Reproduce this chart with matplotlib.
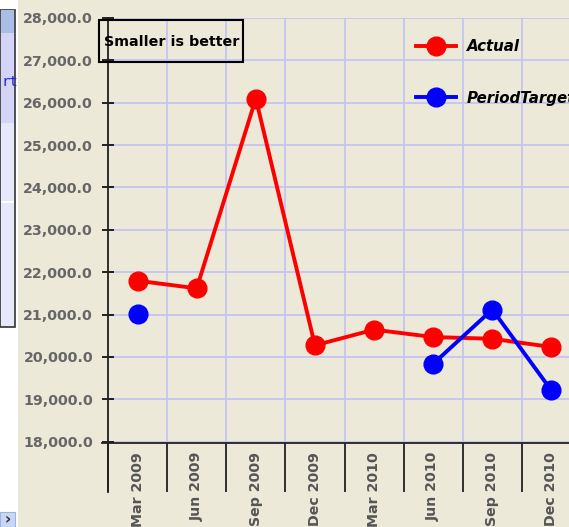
import numpy as np
import matplotlib
matplotlib.use("Agg")
from matplotlib import pyplot as plt
from matplotlib.patches import Rectangle

# data
quarters = ["Mar 2009", "Jun 2009", "Sep 2009", "Dec 2009",
            "Mar 2010", "Jun 2010", "Sep 2010", "Dec 2010"]
actual = [21800, 21620, 26100, 20275, 20645, 20470, 20430, 20235]
target = [21020, np.nan, np.nan, np.nan, np.nan, 19840, 21120, 19210]
yticks = list(range(18000, 28001, 1000))

W, H = 569, 527
BG = "#ECE9D8"

fig = plt.figure(figsize=(W / 100, H / 100), dpi=100, facecolor=BG)

def px_rect(x0, y0, x1, y1, **kw):
    # rectangle given in screen pixels (origin top-left)
    r = Rectangle((x0 / W, 1 - y1 / H), (x1 - x0) / W, (y1 - y0) / H,
                  transform=fig.transFigure, **kw)
    fig.add_artist(r)
    return r

# leftover window strip on the left of the screenshot
px_rect(0, 0, 18, H, facecolor="white", edgecolor="none")
px_rect(0, 10, 14.5, 327, facecolor="#E8E8FC", edgecolor="#333333", lw=1.2)
px_rect(0.5, 10.5, 14, 33, facecolor="#A9BEE6", edgecolor="none")
px_rect(0.5, 33, 14, 123, facecolor="#D4D4F8", edgecolor="none")
px_rect(0.5, 201, 14, 202.5, facecolor="white", edgecolor="none")
px_rect(0, 512, 15, H, facecolor="#C8D7F5", edgecolor="#9DB3E0", lw=0.8)
fig.text(1 / W, 1 - 82 / H, "rt", ha="left", va="center",
         color="#2222DD", fontsize=10, family="DejaVu Sans Mono")
fig.text(7.5 / W, 1 - 520 / H, "›", ha="center", va="center",
         color="#333333", fontsize=11, fontweight="bold")

# axes: left 108, right 581 (past the image edge), top 18, bottom 443
ax = fig.add_axes([108 / W, (H - 443) / H, 473 / W, 425 / H])
ax.set_facecolor(BG)

x = np.arange(len(quarters))
ax.plot(x, actual, color="#FF0000", lw=2.8, marker="o", ms=13.5,
        label="Actual", zorder=3)
ax.plot(x, target, color="#0000FF", lw=2.8, marker="o", ms=13.5,
        label="PeriodTarget", zorder=3)

ax.set_xlim(-0.5, len(quarters) - 0.5)
ax.set_ylim(17970, 28000)

ax.set_yticks(yticks)
ax.set_yticklabels([f"{v:,.1f}" for v in yticks])
ax.tick_params(axis="y", direction="inout", length=8.5, width=1.2,
               pad=6.5, labelsize=10.2, labelcolor="#666666")
for t in ax.get_yticklabels():
    t.set_fontweight("bold")

ax.set_xticks(x)
ax.set_xticklabels(quarters, rotation=90, va="top", ha="center")
ax.set_xticks(np.arange(-0.5, len(quarters)), minor=True)
ax.tick_params(axis="x", which="major", length=0, pad=6.5,
               labelsize=10.2, labelcolor="#555555")
ax.tick_params(axis="x", which="minor", direction="out", length=35,
               width=1.3, color="#222222")
for t in ax.get_xticklabels():
    t.set_fontweight("bold")

ax.grid(True, axis="y", which="major", color="#C4C4F2", lw=1.3)
ax.grid(True, axis="x", which="minor", color="#C4C4F2", lw=1.3)
ax.set_axisbelow(True)

for s in ["top", "right"]:
    ax.spines[s].set_visible(False)
for s in ["left", "bottom"]:
    ax.spines[s].set_color("#222222")
    ax.spines[s].set_linewidth(1.3)
# y axis runs on below the plot, x axis a little to the left
ax.plot([0, 0], [0, -49 / 425], transform=ax.transAxes, color="#222222",
        lw=1.3, clip_on=False)
ax.plot([-6 / 473, 0], [0, 0], transform=ax.transAxes, color="#222222",
        lw=1.3, clip_on=False)

# note box
ax.add_patch(Rectangle((-9 / 473, 1 - 44 / 425), 144 / 473, 42 / 425,
                       transform=ax.transAxes, fill=False, ec="black",
                       lw=1.5, clip_on=False, zorder=4))
ax.text(-4 / 473, 1 - 24 / 425, "Smaller is better", transform=ax.transAxes,
        ha="left", va="center", fontsize=10.3, fontweight="bold", color="black")

ax.legend(loc="upper left", bbox_to_anchor=(0.651, 0.951), frameon=False,
          borderpad=0, borderaxespad=0, handlelength=2.65, handletextpad=0.75,
          labelspacing=2.45, prop=dict(size=10.8, weight="bold", style="italic"))

fig.savefig("out.png", dpi=100, facecolor=BG)
